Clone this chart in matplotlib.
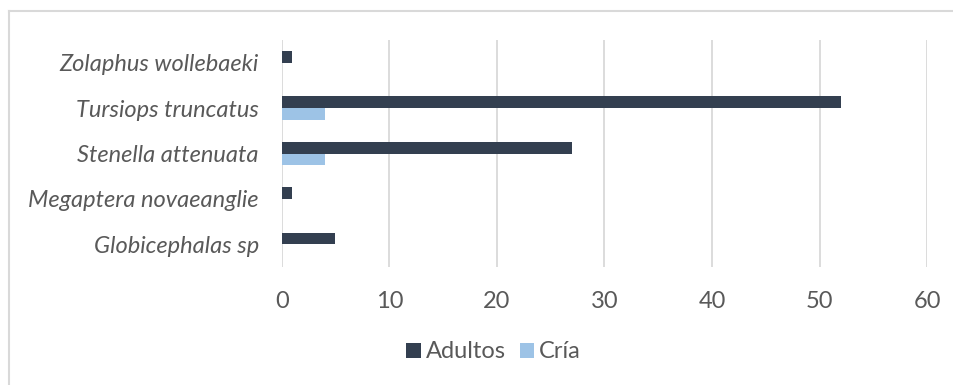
import matplotlib
matplotlib.use("Agg")
import matplotlib.pyplot as plt
from matplotlib.lines import Line2D
from matplotlib.patches import Patch
import numpy as np

# Species listed bottom-to-top as they appear on the axis
species = ["Globicephalas sp", "Megaptera novaeanglie", "Stenella attenuata",
           "Tursiops truncatus", "Zolaphus wollebaeki"]
adultos = [5, 1, 27, 52, 1]
cria = [0, 0, 4, 4, 0]
x_ticks = [0, 10, 20, 30, 40, 50, 60]

DARK = "#333F50"
LIGHT = "#9DC3E6"
GRID = "#D9D9D9"
TEXT = "#595959"

plt.rcParams["font.family"] = ["Lato", "DejaVu Sans"]

W, H = 954, 385
fig = plt.figure(figsize=(W / 100, H / 100), dpi=100)
ax = fig.add_axes([281.7 / W, 1 - 267 / H, (927.3 - 281.7) / W, (267 - 40) / H])

y = np.arange(len(species))
bh = 0.257
ax.barh(y + bh / 2, adultos, height=bh, color=DARK, label="Adultos", zorder=3)
ax.barh(y - bh / 2, cria, height=bh, color=LIGHT, label="Cría", zorder=3)

ax.set_xlim(0, 60)
ax.set_ylim(-0.5, len(species) - 0.5)
ax.set_xticks(x_ticks)
ax.set_xticklabels([str(t) for t in x_ticks])
ax.set_yticks(y)
ax.set_yticklabels(species, fontstyle="italic")

ax.grid(axis="x", color=GRID, linewidth=1.3, zorder=0)
for s in ax.spines.values():
    s.set_visible(False)
ax.tick_params(axis="both", length=0, colors=TEXT, labelsize=17)
ax.tick_params(axis="x", pad=17)
ax.tick_params(axis="y", pad=16.5)

handles = [Patch(facecolor=DARK, edgecolor="none"), Patch(facecolor=LIGHT, edgecolor="none")]
fig.legend(handles, ["Adultos", "Cría"], loc="center", bbox_to_anchor=(493.5 / W, 1 - 352 / H),
           ncol=2, frameon=False, fontsize=17, labelcolor=TEXT, handlelength=0.62,
           handleheight=0.62, handletextpad=0.2, columnspacing=0.6)

# Chart border (left and top edges)
fig.add_artist(Line2D([8.8 / W, 8.8 / W], [0, 1 - 10.5 / H], transform=fig.transFigure,
                      color=GRID, linewidth=1.5))
fig.add_artist(Line2D([8.8 / W, 1], [1 - 10.5 / H, 1 - 10.5 / H], transform=fig.transFigure,
                      color=GRID, linewidth=1.5))

fig.savefig("out.png", dpi=100, facecolor="white")
